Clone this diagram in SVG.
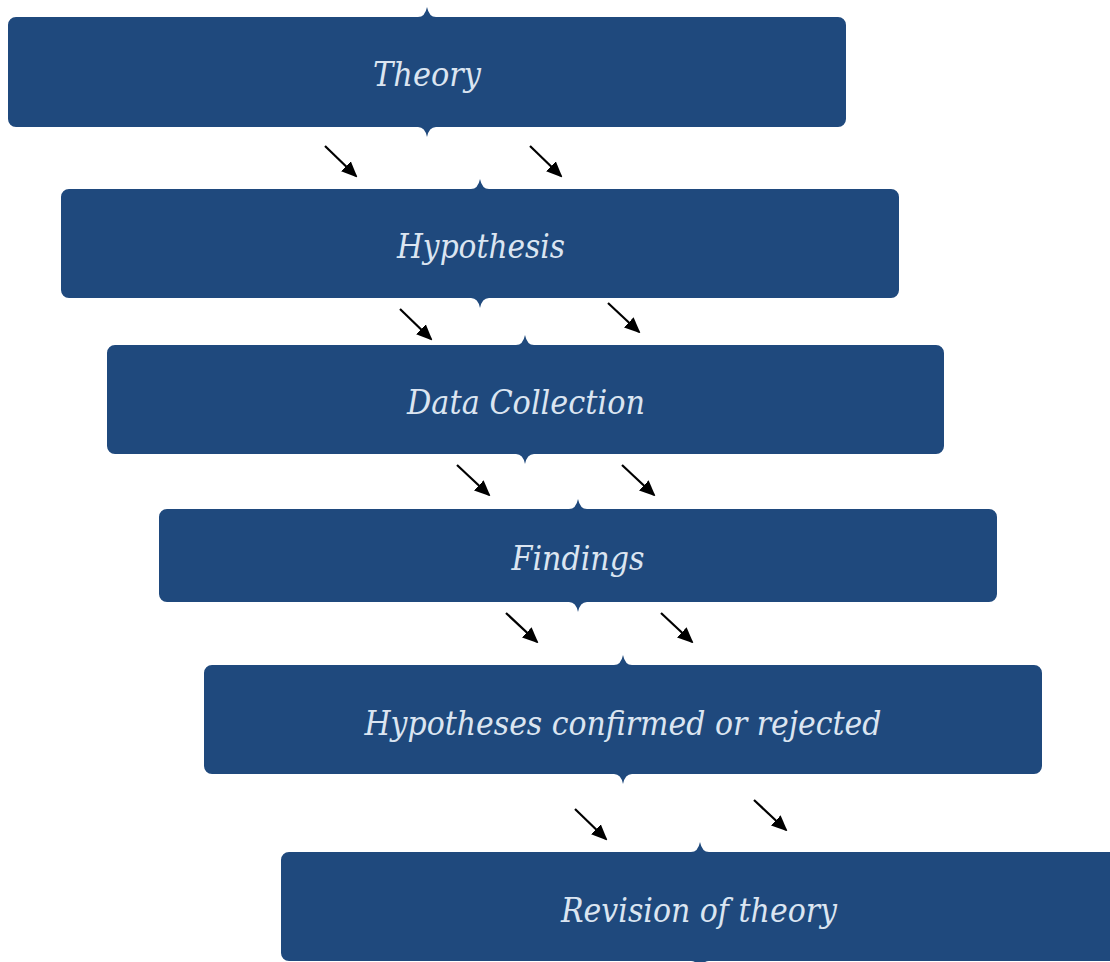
<svg xmlns="http://www.w3.org/2000/svg" width="1110" height="962" viewBox="0 0 1110 962">
  <defs>
    <style>
      .box { fill: #1f497d; }
      .label { font-family: "DejaVu Serif", "Liberation Serif", serif; font-style: italic; font-size: 33px; fill: #dbe5f1; text-anchor: middle; }
      .arrow { stroke: #000; stroke-width: 2.2; fill: none; marker-end: url(#head); }
    </style>
    <marker id="head" viewBox="0 0 16 16" refX="14" refY="8" markerWidth="16" markerHeight="16" orient="auto" markerUnits="userSpaceOnUse">
      <path d="M0,1 L16,8 L0,15 Z" fill="#000"/>
    </marker>
  </defs>

  <!-- Stages: rounded bars with a small cusp at top and bottom centre -->
  <g id="theory">
    <path class="box" d="M16,17 H418 Q425,17 427,7 Q429,17 436,17 H838 A8,8 0 0 1 846,25 V119 A8,8 0 0 1 838,127 H436 Q429,127 427,137 Q425,127 418,127 H16 A8,8 0 0 1 8,119 V25 A8,8 0 0 1 16,17 Z"/>
    <text class="label" x="427" y="86" textLength="108" lengthAdjust="spacingAndGlyphs">Theory</text>
  </g>

  <g id="hypothesis">
    <path class="box" d="M69,189 H471 Q478,189 480,179 Q482,189 489,189 H891 A8,8 0 0 1 899,197 V290 A8,8 0 0 1 891,298 H489 Q482,298 480,308 Q478,298 471,298 H69 A8,8 0 0 1 61,290 V197 A8,8 0 0 1 69,189 Z"/>
    <text class="label" x="481" y="258" textLength="168" lengthAdjust="spacingAndGlyphs">Hypothesis</text>
  </g>

  <g id="data-collection">
    <path class="box" d="M115,345 H516 Q523,345 525,335 Q527,345 534,345 H936 A8,8 0 0 1 944,353 V446 A8,8 0 0 1 936,454 H534 Q527,454 525,464 Q523,454 516,454 H115 A8,8 0 0 1 107,446 V353 A8,8 0 0 1 115,345 Z"/>
    <text class="label" x="526" y="414" textLength="238" lengthAdjust="spacingAndGlyphs">Data Collection</text>
  </g>

  <g id="findings">
    <path class="box" d="M167,509 H569 Q576,509 578,499 Q580,509 587,509 H989 A8,8 0 0 1 997,517 V594 A8,8 0 0 1 989,602 H587 Q580,602 578,612 Q576,602 569,602 H167 A8,8 0 0 1 159,594 V517 A8,8 0 0 1 167,509 Z"/>
    <text class="label" x="578" y="570" textLength="133" lengthAdjust="spacingAndGlyphs">Findings</text>
  </g>

  <g id="hypotheses-confirmed">
    <path class="box" d="M212,665 H614 Q621,665 623,655 Q625,665 632,665 H1034 A8,8 0 0 1 1042,673 V766 A8,8 0 0 1 1034,774 H632 Q625,774 623,784 Q621,774 614,774 H212 A8,8 0 0 1 204,766 V673 A8,8 0 0 1 212,665 Z"/>
    <text class="label" x="623" y="735" textLength="517" lengthAdjust="spacingAndGlyphs">Hypotheses confirmed or rejected</text>
  </g>

  <g id="revision">
    <path class="box" d="M289,852 H691 Q698,852 700,842 Q702,852 709,852 H1111 A8,8 0 0 1 1119,860 V953 A8,8 0 0 1 1111,961 H709 Q702,961 700,971 Q698,961 691,961 H289 A8,8 0 0 1 281,953 V860 A8,8 0 0 1 289,852 Z"/>
    <text class="label" x="699" y="922" textLength="276" lengthAdjust="spacingAndGlyphs">Revision of theory</text>
  </g>

  <!-- Connectors -->
  <g id="connectors">
    <line class="arrow" x1="325" y1="146" x2="356" y2="176"/>
    <line class="arrow" x1="530" y1="146" x2="561" y2="176"/>
    <line class="arrow" x1="400" y1="309" x2="431" y2="339"/>
    <line class="arrow" x1="608" y1="303" x2="639" y2="332"/>
    <line class="arrow" x1="457" y1="465" x2="489" y2="495"/>
    <line class="arrow" x1="622" y1="465" x2="654" y2="495"/>
    <line class="arrow" x1="506" y1="613" x2="537" y2="642"/>
    <line class="arrow" x1="661" y1="613" x2="692" y2="642"/>
    <line class="arrow" x1="575" y1="809" x2="606" y2="839"/>
    <line class="arrow" x1="754" y1="800" x2="786" y2="830"/>
  </g>
</svg>
